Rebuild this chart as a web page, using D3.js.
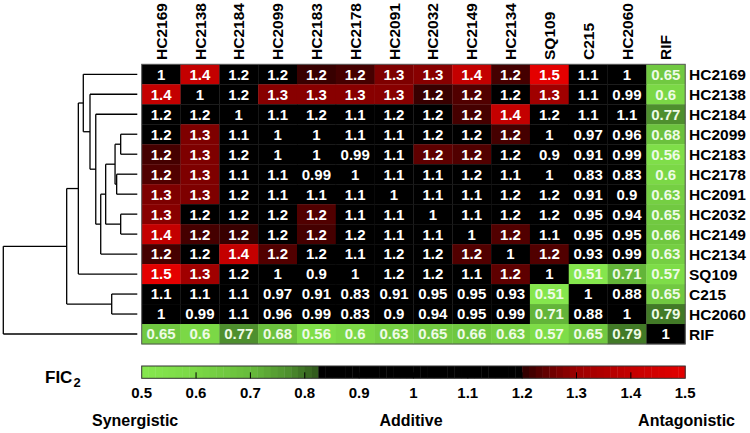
<!DOCTYPE html>
<html>
<head>
<meta charset="utf-8">
<script src="https://cdn.jsdelivr.net/npm/d3@7"></script>
<style>
  html, body { margin: 0; padding: 0; background: #fff; }
  svg { display: block; font-family: "Liberation Sans", Arial, sans-serif; font-weight: bold; }
</style>
</head>
<body>
<svg id="chart" width="750" height="433"></svg>
<script>
// ---- data ----
const drugs = ["HC2169","HC2138","HC2184","HC2099","HC2183","HC2178","HC2091","HC2032","HC2149","HC2134","SQ109","C215","HC2060","RIF"];

// FIC2 values (row drug x column drug); displayed rounded to 2 significant digits
const fic = [
  [1.00,1.40,1.17,1.17,1.21,1.22,1.27,1.28,1.40,1.22,1.50,1.10,1.00,0.65],
  [1.40,1.00,1.17,1.28,1.28,1.28,1.28,1.21,1.23,1.17,1.31,1.10,0.99,0.60],
  [1.17,1.17,1.00,1.10,1.18,1.10,1.17,1.17,1.22,1.40,1.18,1.10,1.10,0.77],
  [1.17,1.27,1.10,1.00,1.00,1.10,1.10,1.18,1.18,1.22,1.00,0.97,0.96,0.68],
  [1.22,1.27,1.18,1.00,1.00,0.99,1.10,1.24,1.23,1.18,0.90,0.91,0.99,0.56],
  [1.23,1.27,1.10,1.10,0.99,1.00,1.10,1.10,1.18,1.10,1.00,0.83,0.83,0.60],
  [1.27,1.27,1.18,1.10,1.10,1.10,1.00,1.10,1.10,1.18,1.18,0.91,0.90,0.63],
  [1.28,1.18,1.18,1.18,1.23,1.10,1.10,1.00,1.10,1.18,1.18,0.95,0.94,0.65],
  [1.40,1.22,1.21,1.18,1.22,1.18,1.10,1.10,1.00,1.23,1.10,0.95,0.95,0.66],
  [1.22,1.18,1.40,1.23,1.18,1.10,1.18,1.18,1.23,1.00,1.23,0.93,0.99,0.63],
  [1.50,1.31,1.18,1.00,0.90,1.00,1.18,1.18,1.10,1.24,1.00,0.51,0.71,0.57],
  [1.10,1.10,1.10,0.97,0.91,0.83,0.91,0.95,0.95,0.93,0.51,1.00,0.88,0.65],
  [1.00,0.99,1.10,0.96,0.99,0.83,0.90,0.94,0.95,0.99,0.71,0.88,1.00,0.79],
  [0.65,0.60,0.77,0.68,0.56,0.60,0.63,0.65,0.66,0.63,0.57,0.65,0.79,1.00]
];

// hierarchical clustering of the rows (merge heights, relative)
const dendro = {h:1.0, children:[
  {h:0.527, children:[
    {h:0.440, children:[
      {h:0.403, children:["HC2169",
        {h:0.353, children:["HC2138",
          {h:0.310, children:["HC2184",
            {h:0.273, children:[
              {h:0.236, children:[
                {h:0.166, children:[
                  {h:0.124, children:["HC2099","HC2183"]},
                  {h:0.154, children:["HC2178","HC2091"]}
                ]},
                {h:0.124, children:["HC2032","HC2149"]}
              ]},
              "HC2134"
            ]}
          ]}
        ]}
      ]},
      "SQ109"
    ]},
    {h:0.191, children:["C215","HC2060"]}
  ]},
  "RIF"
]};

const legendTicks = [0.5,0.6,0.7,0.8,0.9,1.0,1.1,1.2,1.3,1.4,1.5];
const legendTitle = "FIC";
const legendSub = "2";
const zoneLabels = ["Synergistic","Additive","Antagonistic"];

// ---- layout ----
const svg = d3.select("#chart");
const mx0 = 141.7, mx1 = 685.2, my0 = 64.3, my1 = 344;

const x = d3.scaleBand().domain(drugs).range([mx0, mx1]);
const y = d3.scaleBand().domain(drugs).range([my0, my1]);

const greenScale = d3.scaleLinear()
  .domain([0.5, 0.6, 0.7, 0.77, 0.83])
  .range(["#86e84e", "#7bd846", "#67bb3b", "#4e8f2e", "#2b5019"])
  .clamp(true);
const redScale = d3.scaleLinear()
  .domain([1.2, 1.25, 1.3, 1.4, 1.5])
  .range(["#2c0000", "#6a0000", "#9c0000", "#c40000", "#e40000"])
  .clamp(true);
function color(v) {
  if (v < 0.83) return greenScale(v);
  if (v <= 1.2) return "#000000";
  return redScale(v);
}
const fmt = d3.format(".2~r");

// cells
const cells = [];
fic.forEach(function(row, i) {
  row.forEach(function(v, j) { cells.push({r: drugs[i], c: drugs[j], v: v}); });
});

const g = svg.append("g");
g.selectAll("rect.cell").data(cells).join("rect")
  .attr("class", "cell")
  .attr("x", function(p) { return x(p.c); })
  .attr("y", function(p) { return y(p.r); })
  .attr("width", x.bandwidth() + 0.3).attr("height", y.bandwidth() + 0.3)
  .attr("fill", function(p) { return color(p.v); });

g.selectAll("text.val").data(cells).join("text")
  .attr("class", "val")
  .attr("x", function(p) { return x(p.c) + x.bandwidth() / 2; })
  .attr("y", function(p) { return y(p.r) + y.bandwidth() / 2; })
  .attr("dy", "0.36em")
  .attr("text-anchor", "middle")
  .attr("font-size", 15)
  .attr("fill", function(p) { return p.v < 0.83 ? "#eefbe6" : "#ffffff"; })
  .text(function(p) { return fmt(p.v); });

svg.append("rect")
  .attr("x", mx0).attr("y", my0)
  .attr("width", mx1 - mx0).attr("height", my1 - my0)
  .attr("fill", "none").attr("stroke", "#555").attr("stroke-width", 1);

// column labels
svg.selectAll("text.col").data(drugs).join("text")
  .attr("class", "col")
  .attr("transform", function(name) { return "translate(" + (x(name) + x.bandwidth() / 2) + ",60) rotate(-90)"; })
  .attr("dy", "0.36em")
  .attr("font-size", 15.5)
  .attr("fill", "#000")
  .text(function(name) { return name; });

// row labels
svg.selectAll("text.row").data(drugs).join("text")
  .attr("class", "row")
  .attr("x", 689)
  .attr("y", function(name) { return y(name) + y.bandwidth() / 2; })
  .attr("dy", "0.36em")
  .attr("font-size", 15.5)
  .attr("fill", "#000")
  .text(function(name) { return name; });

// dendrogram
const root = d3.hierarchy(dendro, function(nd) { return (typeof nd === "string") ? null : nd.children; });
const hx = d3.scaleLinear().domain([0, 1]).range([137.3, 3.3]);
root.eachAfter(function(n) {
  if (!n.children) {
    n.px = hx(0);
    n.py = y(n.data) + y.bandwidth() / 2;
  } else {
    n.px = hx(n.data.h);
    n.py = (n.children[0].py + n.children[n.children.length - 1].py) / 2;
  }
});
const dg = svg.append("g").attr("stroke", "#000").attr("stroke-width", 1.3).attr("fill", "none");
root.descendants().filter(function(n) { return n.children; }).forEach(function(n) {
  dg.append("line")
    .attr("x1", n.px).attr("x2", n.px)
    .attr("y1", n.children[0].py).attr("y2", n.children[n.children.length - 1].py);
  n.children.forEach(function(c) {
    dg.append("line")
      .attr("x1", n.px).attr("x2", c.px)
      .attr("y1", c.py).attr("y2", c.py);
  });
});

// colour legend
const lx = d3.scaleLinear().domain([0.5, 1.5]).range([mx0, mx1]);
const ly0 = 366, ly1 = 378.3;
const stepSize = 0.0125;
const steps = d3.range(0, 80).map(function(k) { return 0.5 + k * stepSize; });
svg.append("g").selectAll("rect").data(steps).join("rect")
  .attr("x", function(s) { return lx(s); })
  .attr("y", ly0)
  .attr("width", function(s) { return lx(Math.min(s + stepSize, 1.5)) - lx(s) + 0.4; })
  .attr("height", ly1 - ly0)
  .attr("fill", function(s) { return color(s + stepSize / 2); });
svg.append("rect")
  .attr("x", lx(0.5)).attr("y", ly0)
  .attr("width", lx(1.5) - lx(0.5)).attr("height", ly1 - ly0)
  .attr("fill", "none").attr("stroke", "#333").attr("stroke-width", 1);

// tick marks inside the bar
svg.append("g").selectAll("line").data(legendTicks.filter(function(t) { return t > 0.5 && t < 1.5; })).join("line")
  .attr("x1", function(t) { return lx(t); }).attr("x2", function(t) { return lx(t); })
  .attr("y1", ly1).attr("y2", ly1 - 6)
  .attr("stroke", "#000").attr("stroke-width", 1);

// tick labels
const tickFmt = d3.format("~g");
svg.append("g").selectAll("text").data(legendTicks).join("text")
  .attr("x", function(t) { return lx(t); })
  .attr("y", 398.3)
  .attr("text-anchor", "middle")
  .attr("font-size", 15)
  .attr("fill", "#000")
  .text(function(t) { return tickFmt(t); });

// legend title
const tt = svg.append("text").attr("x", 45).attr("y", 383.3).attr("font-size", 17).attr("fill", "#000");
tt.append("tspan").text(legendTitle);
tt.append("tspan").attr("font-size", 13).attr("dy", 3.4).attr("dx", 1).text(legendSub);

// zone labels
svg.append("text").attr("x", 92).attr("y", 426).attr("font-size", 16).attr("text-anchor", "start").text(zoneLabels[0]);
svg.append("text").attr("x", 411).attr("y", 426).attr("font-size", 16).attr("text-anchor", "middle").text(zoneLabels[1]);
svg.append("text").attr("x", 735).attr("y", 426).attr("font-size", 16).attr("text-anchor", "end").text(zoneLabels[2]);
</script>
</body>
</html>
